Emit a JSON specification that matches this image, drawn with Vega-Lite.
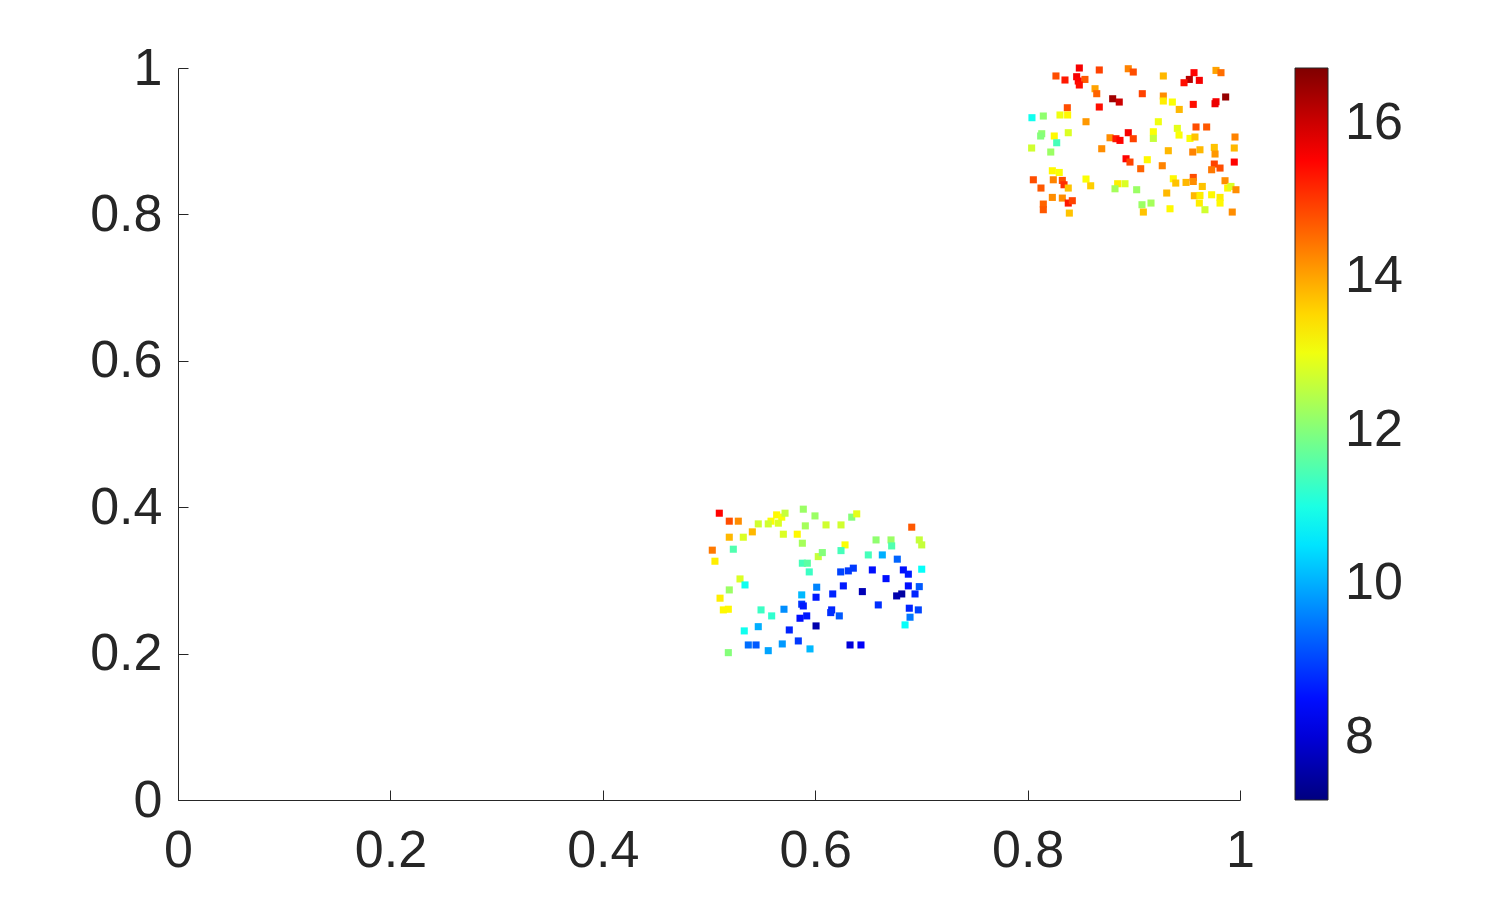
{
  "$schema": "https://vega.github.io/schema/vega-lite/v6.json",
  "width": 1062,
  "height": 732,
  "autosize": {"type": "none"},
  "padding": {"left": 178, "top": 68, "right": 260, "bottom": 100},
  "background": "white",
  "config": {"view": {"stroke": null}},
  "data": {"values": [
    {"x":0.5097,"y":0.3918,"v":15.5},{"x":0.5191,"y":0.3809,"v":14.8},{"x":0.5276,"y":0.3809,"v":14.2},{"x":0.5464,"y":0.3772,"v":12.7},
    {"x":0.5584,"y":0.3809,"v":13.1},{"x":0.5637,"y":0.3895,"v":13.2},{"x":0.5685,"y":0.3864,"v":13.1},{"x":0.5716,"y":0.3918,"v":12.6},
    {"x":0.5653,"y":0.3782,"v":12.8},{"x":0.5558,"y":0.3772,"v":12.7},{"x":0.5888,"y":0.3973,"v":12.2},{"x":0.5998,"y":0.3881,"v":12.2},
    {"x":0.5191,"y":0.3590,"v":13.8},{"x":0.5323,"y":0.3590,"v":12.8},{"x":0.5408,"y":0.3663,"v":13.8},{"x":0.5700,"y":0.3631,"v":12.8},
    {"x":0.5831,"y":0.3631,"v":13.2},{"x":0.5907,"y":0.3745,"v":12.3},{"x":0.5879,"y":0.3508,"v":12.3},{"x":0.5031,"y":0.3413,"v":14.4},
    {"x":0.5229,"y":0.3426,"v":11.5},{"x":0.5056,"y":0.3262,"v":13.3},{"x":0.5879,"y":0.3235,"v":11.4},{"x":0.5926,"y":0.3235,"v":11.6},
    {"x":0.5944,"y":0.3116,"v":11.3},{"x":0.6029,"y":0.3325,"v":12.6},{"x":0.6102,"y":0.3758,"v":12.7},{"x":0.6243,"y":0.3758,"v":12.7},
    {"x":0.6344,"y":0.3864,"v":12.0},{"x":0.6391,"y":0.3909,"v":12.9},{"x":0.6909,"y":0.3727,"v":14.7},{"x":0.6573,"y":0.3553,"v":12.1},
    {"x":0.6714,"y":0.3553,"v":12.2},{"x":0.6720,"y":0.3471,"v":11.5},{"x":0.6980,"y":0.3553,"v":12.6},{"x":0.7003,"y":0.3485,"v":12.6},
    {"x":0.6281,"y":0.3485,"v":13.1},{"x":0.6243,"y":0.3407,"v":11.4},{"x":0.6067,"y":0.3380,"v":12.0},{"x":0.6500,"y":0.3348,"v":11.4},
    {"x":0.6632,"y":0.3348,"v":10.0},{"x":0.6773,"y":0.3290,"v":9.3},{"x":0.7003,"y":0.3153,"v":10.8},{"x":0.6359,"y":0.3167,"v":8.9},
    {"x":0.6312,"y":0.3130,"v":8.9},{"x":0.6240,"y":0.3116,"v":9.0},{"x":0.6538,"y":0.3143,"v":8.5},{"x":0.6830,"y":0.3143,"v":8.5},
    {"x":0.6877,"y":0.3085,"v":8.6},{"x":0.6667,"y":0.3024,"v":8.5},{"x":0.5292,"y":0.3020,"v":12.8},{"x":0.5339,"y":0.2938,"v":10.9},
    {"x":0.5191,"y":0.2870,"v":12.2},{"x":0.5104,"y":0.2757,"v":13.3},{"x":0.5135,"y":0.2597,"v":13.2},{"x":0.5182,"y":0.2606,"v":13.2},
    {"x":0.5490,"y":0.2597,"v":11.3},{"x":0.5590,"y":0.2515,"v":11.2},{"x":0.5706,"y":0.2606,"v":9.7},{"x":0.5873,"y":0.2802,"v":10.1},
    {"x":0.6014,"y":0.2907,"v":9.6},{"x":0.5873,"y":0.2675,"v":8.9},{"x":0.5888,"y":0.2651,"v":8.6},{"x":0.6008,"y":0.2770,"v":8.6},
    {"x":0.5857,"y":0.2483,"v":8.5},{"x":0.5920,"y":0.2515,"v":8.6},{"x":0.6008,"y":0.2378,"v":7.6},{"x":0.5464,"y":0.2368,"v":10.0},
    {"x":0.5332,"y":0.2310,"v":10.9},{"x":0.5756,"y":0.2323,"v":8.7},{"x":0.5841,"y":0.2173,"v":8.9},{"x":0.5370,"y":0.2118,"v":9.4},
    {"x":0.5443,"y":0.2118,"v":9.2},{"x":0.5690,"y":0.2132,"v":9.8},{"x":0.5558,"y":0.2040,"v":9.9},{"x":0.5951,"y":0.2064,"v":10.1},
    {"x":0.5182,"y":0.2013,"v":12.0},{"x":0.6265,"y":0.2925,"v":8.6},{"x":0.6165,"y":0.2815,"v":8.7},{"x":0.6444,"y":0.2847,"v":7.7},
    {"x":0.6877,"y":0.2925,"v":8.5},{"x":0.6980,"y":0.2915,"v":9.2},{"x":0.6815,"y":0.2815,"v":7.5},{"x":0.6767,"y":0.2788,"v":7.6},
    {"x":0.6940,"y":0.2815,"v":8.7},{"x":0.6594,"y":0.2665,"v":8.8},{"x":0.6886,"y":0.2620,"v":8.7},{"x":0.6971,"y":0.2597,"v":9.0},
    {"x":0.6893,"y":0.2497,"v":9.5},{"x":0.6846,"y":0.2392,"v":10.8},{"x":0.6155,"y":0.2597,"v":8.7},{"x":0.6146,"y":0.2560,"v":8.8},
    {"x":0.6227,"y":0.2515,"v":9.2},{"x":0.6328,"y":0.2118,"v":8.0},{"x":0.6431,"y":0.2118,"v":8.3},
    {"x":0.8487,"y":1.0,"v":15.6},{"x":0.8675,"y":0.9973,"v":14.9},{"x":0.8267,"y":0.9891,"v":14.8},{"x":0.8352,"y":0.9836,"v":15.3},
    {"x":0.8462,"y":0.9881,"v":15.6},{"x":0.8477,"y":0.9822,"v":15.5},{"x":0.8540,"y":0.9844,"v":14.7},{"x":0.8487,"y":0.9768,"v":15.4},
    {"x":0.8948,"y":0.9990,"v":14.3},{"x":0.8995,"y":0.9945,"v":14.8},{"x":0.8635,"y":0.9717,"v":14.0},{"x":0.8651,"y":0.9649,"v":14.6},
    {"x":0.8801,"y":0.9580,"v":16.4},{"x":0.8863,"y":0.9535,"v":16.0},{"x":0.8675,"y":0.9467,"v":15.4},{"x":0.8374,"y":0.9457,"v":14.8},
    {"x":0.8041,"y":0.9321,"v":10.9},{"x":0.8148,"y":0.9344,"v":12.1},{"x":0.8305,"y":0.9358,"v":13.0},{"x":0.8377,"y":0.9358,"v":13.2},
    {"x":0.8550,"y":0.9266,"v":14.1},{"x":0.8133,"y":0.9102,"v":12.1},{"x":0.8123,"y":0.9071,"v":12.0},{"x":0.8251,"y":0.9071,"v":13.2},
    {"x":0.8383,"y":0.9116,"v":12.8},{"x":0.8274,"y":0.8979,"v":11.4},{"x":0.8776,"y":0.9047,"v":14.2},{"x":0.8832,"y":0.9034,"v":15.3},
    {"x":0.8870,"y":0.9011,"v":15.5},{"x":0.8948,"y":0.9116,"v":15.6},{"x":0.8995,"y":0.9034,"v":14.9},{"x":0.9278,"y":0.9891,"v":13.8},
    {"x":0.9567,"y":0.9936,"v":15.5},{"x":0.9523,"y":0.9844,"v":16.2},{"x":0.9473,"y":0.9799,"v":15.4},{"x":0.9617,"y":0.9831,"v":15.6},
    {"x":0.9774,"y":0.9967,"v":14.0},{"x":0.9821,"y":0.9936,"v":14.5},{"x":0.9080,"y":0.9649,"v":14.9},{"x":0.9278,"y":0.9617,"v":14.2},
    {"x":0.9278,"y":0.9549,"v":13.3},{"x":0.9363,"y":0.9535,"v":13.1},{"x":0.9428,"y":0.9434,"v":13.8},{"x":0.9560,"y":0.9503,"v":15.4},
    {"x":0.9774,"y":0.9539,"v":15.6},{"x":0.9765,"y":0.9512,"v":15.7},{"x":0.9865,"y":0.9604,"v":16.5},{"x":0.9231,"y":0.9266,"v":13.0},
    {"x":0.9410,"y":0.9175,"v":12.9},{"x":0.9426,"y":0.9084,"v":13.1},{"x":0.9586,"y":0.9194,"v":14.8},{"x":0.9686,"y":0.9194,"v":14.7},
    {"x":0.9184,"y":0.9129,"v":13.1},{"x":0.9184,"y":0.9038,"v":12.6},{"x":0.9529,"y":0.9038,"v":13.1},{"x":0.9576,"y":0.9057,"v":13.7},
    {"x":0.9953,"y":0.9057,"v":14.3},{"x":0.8038,"y":0.8907,"v":12.7},{"x":0.8218,"y":0.8852,"v":12.2},{"x":0.8698,"y":0.8897,"v":14.2},
    {"x":0.8927,"y":0.8760,"v":15.5},{"x":0.8964,"y":0.8715,"v":14.9},{"x":0.8233,"y":0.8596,"v":13.2},{"x":0.8298,"y":0.8573,"v":13.1},
    {"x":0.8054,"y":0.8473,"v":14.8},{"x":0.8126,"y":0.8360,"v":14.7},{"x":0.8242,"y":0.8473,"v":14.3},{"x":0.8327,"y":0.8464,"v":14.8},
    {"x":0.8343,"y":0.8405,"v":15.1},{"x":0.8383,"y":0.8360,"v":13.7},{"x":0.8550,"y":0.8483,"v":13.1},{"x":0.8594,"y":0.8391,"v":13.6},
    {"x":0.8848,"y":0.8419,"v":13.3},{"x":0.8917,"y":0.8419,"v":12.8},{"x":0.8823,"y":0.8350,"v":12.3},{"x":0.8233,"y":0.8232,"v":14.2},
    {"x":0.8327,"y":0.8223,"v":14.2},{"x":0.8383,"y":0.8155,"v":15.3},{"x":0.8421,"y":0.8187,"v":14.9},{"x":0.8148,"y":0.8141,"v":14.6},
    {"x":0.8148,"y":0.8064,"v":14.7},{"x":0.8393,"y":0.8018,"v":13.7},{"x":0.9325,"y":0.8870,"v":13.8},{"x":0.9555,"y":0.8852,"v":14.3},
    {"x":0.9623,"y":0.8883,"v":13.8},{"x":0.9758,"y":0.8915,"v":13.7},{"x":0.9765,"y":0.8825,"v":14.1},{"x":0.9946,"y":0.8907,"v":13.8},
    {"x":0.9127,"y":0.8747,"v":13.2},{"x":0.9065,"y":0.8624,"v":14.6},{"x":0.9268,"y":0.8665,"v":14.3},{"x":0.9758,"y":0.8688,"v":14.9},
    {"x":0.9812,"y":0.8633,"v":14.8},{"x":0.9733,"y":0.8610,"v":14.4},{"x":0.9946,"y":0.8715,"v":15.5},{"x":0.9372,"y":0.8487,"v":13.2},
    {"x":0.9395,"y":0.8428,"v":13.7},{"x":0.9492,"y":0.8437,"v":13.8},{"x":0.9560,"y":0.8505,"v":14.8},{"x":0.9560,"y":0.8450,"v":14.2},
    {"x":0.9645,"y":0.8382,"v":13.7},{"x":0.9859,"y":0.8460,"v":14.2},{"x":0.9884,"y":0.8360,"v":13.2},{"x":0.9915,"y":0.8382,"v":12.8},
    {"x":0.9962,"y":0.8337,"v":14.2},{"x":0.9027,"y":0.8337,"v":12.2},{"x":0.9310,"y":0.8292,"v":13.8},{"x":0.9570,"y":0.8255,"v":13.8},
    {"x":0.9623,"y":0.8259,"v":13.3},{"x":0.9733,"y":0.8268,"v":13.2},{"x":0.9812,"y":0.8232,"v":13.3},{"x":0.9812,"y":0.8155,"v":13.2},
    {"x":0.9617,"y":0.8155,"v":13.3},{"x":0.9077,"y":0.8132,"v":12.2},{"x":0.9162,"y":0.8155,"v":12.3},{"x":0.9670,"y":0.8064,"v":12.7},
    {"x":0.9341,"y":0.8077,"v":13.2},{"x":0.9090,"y":0.8032,"v":13.7},{"x":0.9927,"y":0.8032,"v":14.2}
  ]},
  "mark": {"type": "square", "size": 50, "filled": true, "opacity": 1, "strokeWidth": 0},
  "encoding": {
    "x": {"field": "x", "type": "quantitative",
      "scale": {"domain": [0, 1], "nice": false, "zero": false},
      "axis": {"values": [0, 0.2, 0.4, 0.6, 0.8, 1], "format": "~g", "title": null, "grid": false,
        "labelFont": "Liberation Sans", "labelFontSize": 52, "labelColor": "#262626", "labelFlush": false,
        "domainColor": "#262626", "domainWidth": 1, "tickColor": "#262626", "tickSize": -10, "tickWidth": 1, "labelPadding": 35}},
    "y": {"field": "y", "type": "quantitative",
      "scale": {"domain": [0, 1], "nice": false, "zero": false},
      "axis": {"values": [0, 0.2, 0.4, 0.6, 0.8, 1], "format": "~g", "title": null, "grid": false,
        "labelFont": "Liberation Sans", "labelFontSize": 52, "labelColor": "#262626", "labelFlush": false,
        "domainColor": "#262626", "domainWidth": 1, "tickColor": "#262626", "tickSize": -10, "tickWidth": 1, "labelPadding": 26}},
    "color": {"field": "v", "type": "quantitative",
      "scale": {"type": "linear", "domain": [7.18, 8.37, 10.75, 13.14, 15.52, 16.71],
        "range": ["#000080", "#0000ff", "#00ffff", "#ffff00", "#ff0000", "#800000"], "interpolate": "rgb"},
      "legend": {"orient": "none", "legendX": 1117, "legendY": 0, "title": null, "direction": "vertical",
        "gradientLength": 732, "gradientThickness": 33, "gradientStrokeColor": "#262626", "gradientStrokeWidth": 1,
        "values": [8, 10, 12, 14, 16], "format": "d", "labelFont": "Liberation Sans", "labelFontSize": 52, "labelColor": "#262626",
        "labelOffset": 17, "labelOverlap": false,
        "encode": {"labels": {"update": {"dy": {"value": 5}}}}}}
  }
}
